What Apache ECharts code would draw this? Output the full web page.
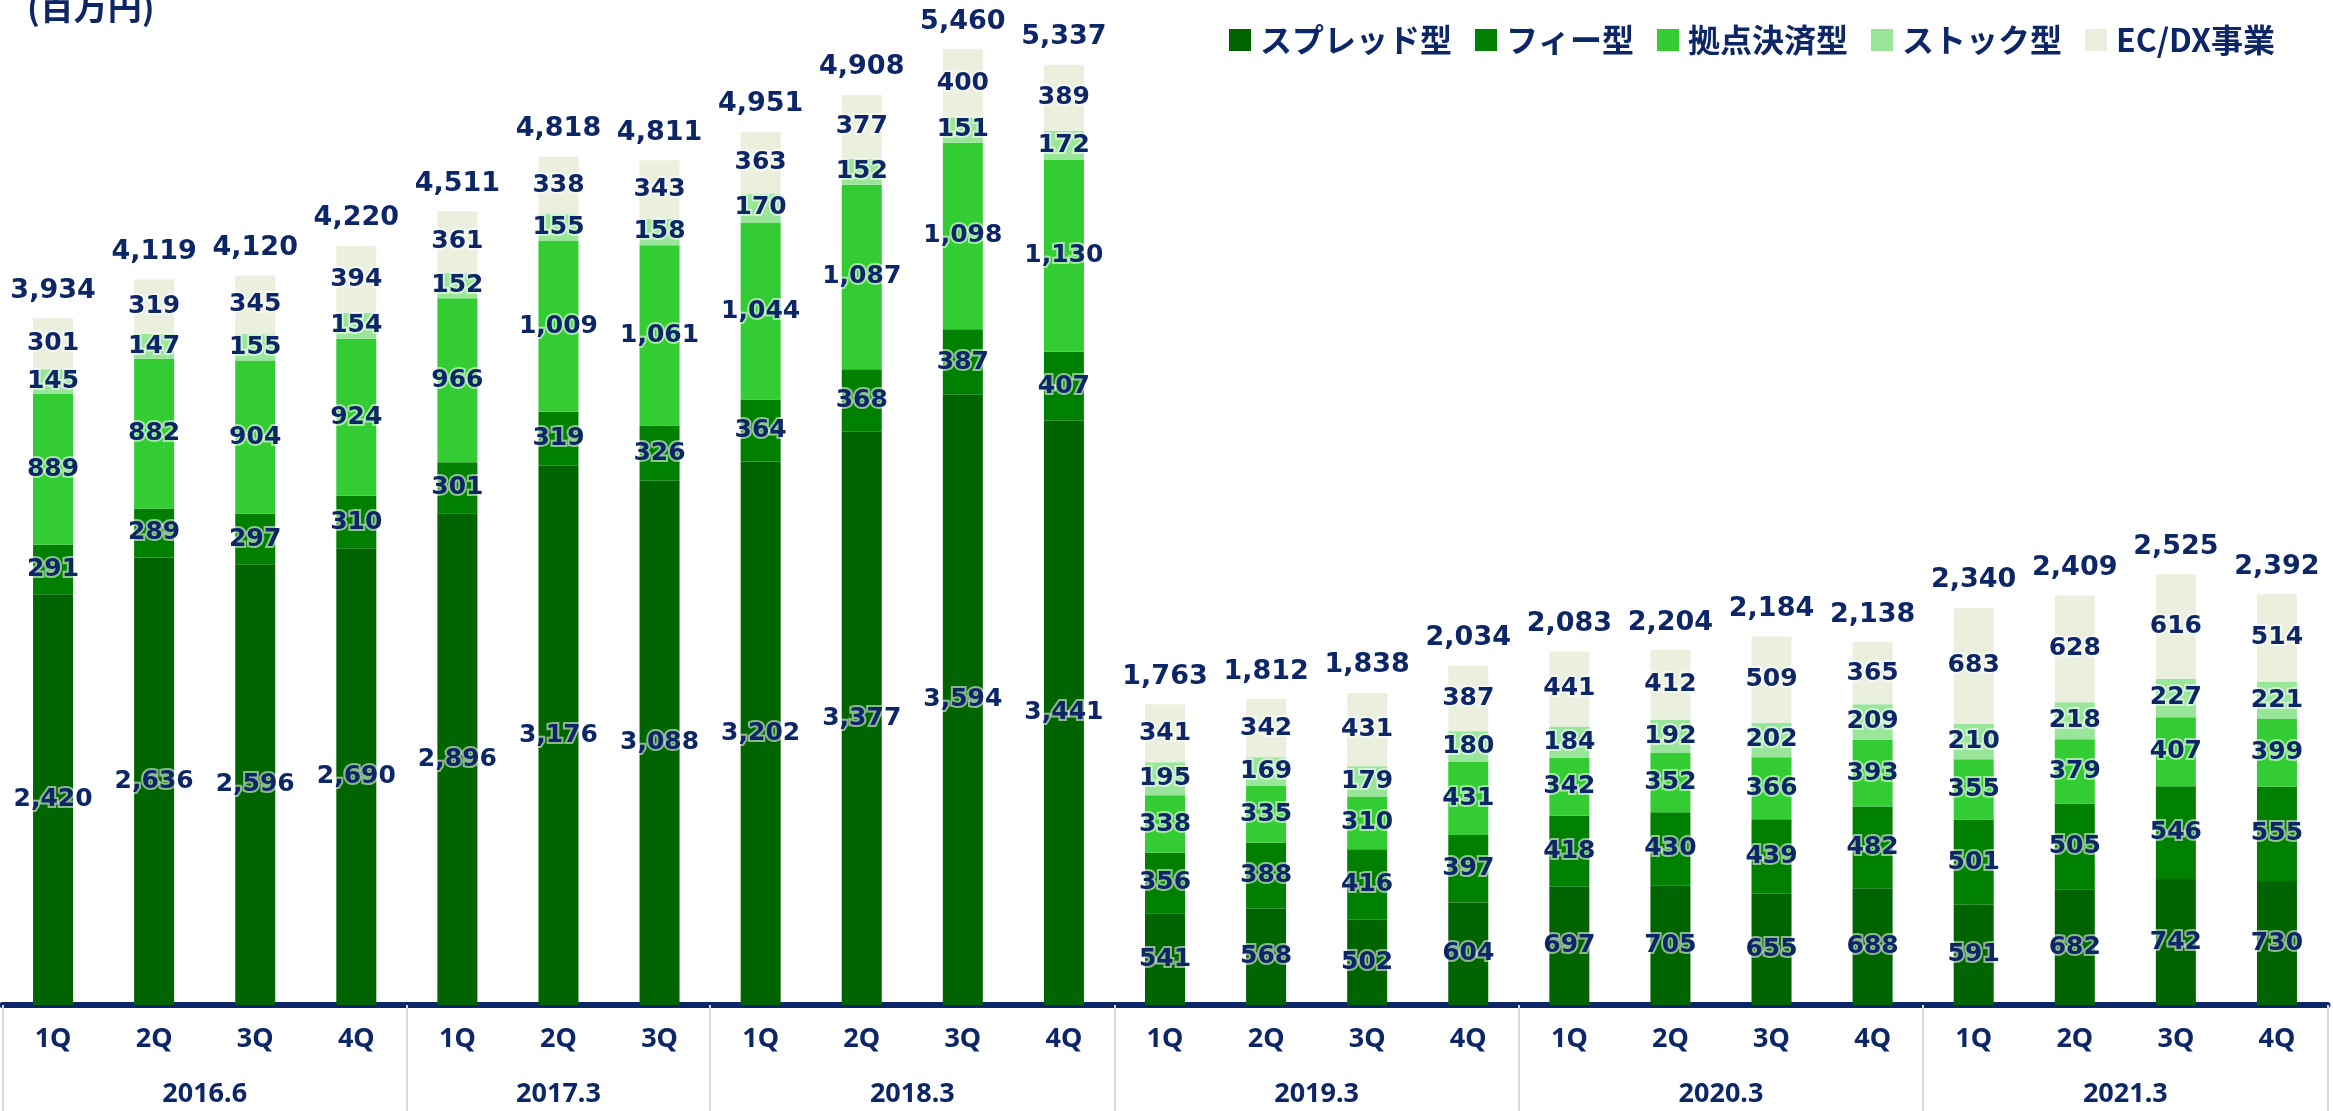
<!DOCTYPE html>
<html>
<head>
<meta charset="utf-8">
<script src="https://cdn.jsdelivr.net/npm/echarts@6/dist/echarts.min.js"></script>
<style>
  html, body { margin: 0; padding: 0; background: #fff; }
  #chart { width: 2333px; height: 1111px; }
</style>
</head>
<body>
<div id="chart"></div>
<script>
const quarters = ['1Q', '2Q', '3Q', '4Q', '1Q', '2Q', '3Q', '1Q', '2Q', '3Q', '4Q',
  '1Q', '2Q', '3Q', '4Q', '1Q', '2Q', '3Q', '4Q', '1Q', '2Q', '3Q', '4Q'];
const years = ['2016.6', '2017.3', '2018.3', '2019.3', '2020.3', '2021.3'];
const yearSizes = [4, 3, 4, 4, 4, 4];

const spread = [2420, 2636, 2596, 2690, 2896, 3176, 3088, 3202, 3377, 3594, 3441,
  541, 568, 502, 604, 697, 705, 655, 688, 591, 682, 742, 730];
const fee = [291, 289, 297, 310, 301, 319, 326, 364, 368, 387, 407,
  356, 388, 416, 397, 418, 430, 439, 482, 501, 505, 546, 555];
const settlement = [889, 882, 904, 924, 966, 1009, 1061, 1044, 1087, 1098, 1130,
  338, 335, 310, 431, 342, 352, 366, 393, 355, 379, 407, 399];
const stock = [145, 147, 155, 154, 152, 155, 158, 170, 152, 151, 172,
  195, 169, 179, 180, 184, 192, 202, 209, 210, 218, 227, 221];
const ecdx = [301, 319, 345, 394, 361, 338, 343, 363, 377, 400, 389,
  341, 342, 431, 387, 441, 412, 509, 365, 683, 628, 616, 514];
const totals = [3934, 4119, 4120, 4220, 4511, 4818, 4811, 4951, 4908, 5460, 5337,
  1763, 1812, 1838, 2034, 2083, 2204, 2184, 2138, 2340, 2409, 2525, 2392];

const navy = '#0d2667';
const fmt = (v) => v.toLocaleString('en-US');

// group boundaries and centres on a 0..23 value scale
const bounds = [0];
yearSizes.forEach((n) => bounds.push(bounds[bounds.length - 1] + n));
const yearAt = {};
years.forEach((y, i) => { yearAt[(bounds[i] + bounds[i + 1]) / 2] = y; });
const sepIdx = bounds.slice(0, -1);

const segLabel = {
  show: true,
  position: 'inside',
  color: navy,
  fontFamily: 'DejaVu Sans',
  fontWeight: 'bold',
  fontSize: 25,
  textBorderColor: 'rgba(255,255,255,0.55)',
  textBorderWidth: 4,
  formatter: (p) => fmt(p.value),
};

const seg = (name, data, color) => ({
  name,
  type: 'bar',
  stack: 'a',
  barWidth: 40,
  data,
  itemStyle: { color },
  label: segLabel,
});

const chart = echarts.init(document.getElementById('chart'));
chart.setOption({
  animation: false,
  grid: { left: 2.5, right: 5.5, top: 0, bottom: 106 },
  legend: {
    data: ['スプレッド型', 'フィー型', '拠点決済型', 'ストック型', 'EC/DX事業'],
    left: 1224,
    top: 19,
    icon: 'rect',
    itemWidth: 22,
    itemHeight: 22,
    itemGap: 23,
    textStyle: {
      color: navy,
      fontFamily: 'Noto Sans CJK JP',
      fontWeight: 'bold',
      fontSize: 32,
      padding: [0, 0, 0, 4],
    },
  },
  graphic: [{
    type: 'text',
    left: 27,
    top: -10,
    style: {
      text: '(百万円)',
      fill: navy,
      font: 'bold 34px "Noto Sans CJK JP"',
    },
  }],
  xAxis: [
    {
      type: 'category',
      data: quarters,
      axisLine: { lineStyle: { color: navy, width: 6 } },
      axisTick: {
        show: true,
        interval: (i) => sepIdx.indexOf(i) >= 0,
        length: 106,
        lineStyle: { color: '#d9d9d9', width: 2 },
      },
      axisLabel: {
        interval: 0,
        margin: 21,
        color: navy,
        fontFamily: 'Noto Sans',
        fontWeight: 'bold',
        fontSize: 27,
      },
    },
    {
      type: 'value',
      position: 'bottom',
      min: 0,
      max: bounds[bounds.length - 1],
      interval: 0.5,
      axisLine: { show: false },
      axisTick: { show: false },
      splitLine: { show: false },
      axisLabel: {
        margin: 76,
        color: navy,
        fontFamily: 'Noto Sans',
        fontWeight: 'bold',
        fontSize: 27,
        showMinLabel: false,
        showMaxLabel: false,
        formatter: (v) => yearAt[v] || '',
      },
    },
  ],
  yAxis: {
    type: 'value',
    min: 0,
    max: 5920,
    show: false,
    splitLine: { show: false },
  },
  series: [
    seg('スプレッド型', spread, '#006400'),
    seg('フィー型', fee, '#008000'),
    seg('拠点決済型', settlement, '#33cc33'),
    seg('ストック型', stock, '#99e599'),
    seg('EC/DX事業', ecdx, '#ebf0de'),
    {
      name: 'total',
      type: 'bar',
      stack: 'a',
      barWidth: 40,
      data: totals.map(() => 0),
      itemStyle: { color: 'transparent' },
      label: {
        show: true,
        position: 'top',
        distance: 14,
        color: navy,
        fontFamily: 'DejaVu Sans',
        fontWeight: 'bold',
        fontSize: 27,
        formatter: (p) => fmt(totals[p.dataIndex]),
      },
    },
  ],
});
</script>
</body>
</html>
